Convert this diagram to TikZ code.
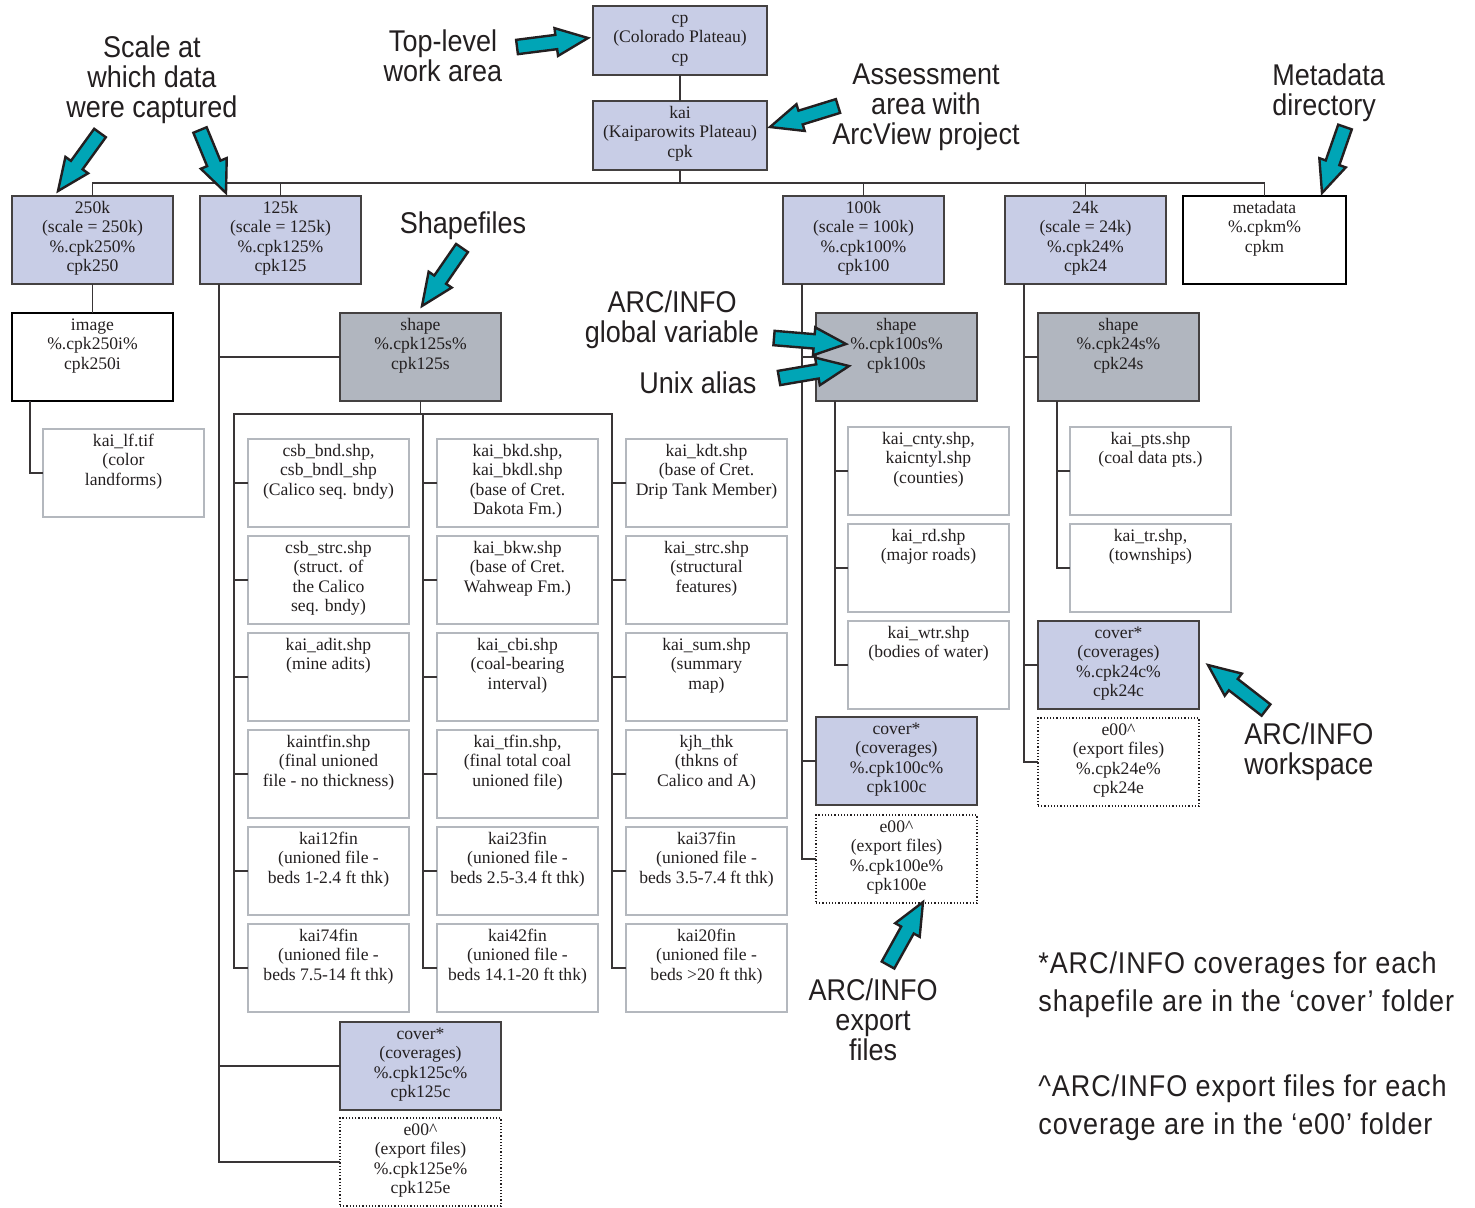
\documentclass[tikz,border=0pt]{standalone}
\usepackage{fontspec}
\setmainfont{Liberation Serif}
\newfontfamily\calloutfont[FakeStretch=0.9]{Liberation Sans}
\newfontfamily\notefont[FakeStretch=0.9,LetterSpace=3]{Liberation Sans}
\usetikzlibrary{calc}
\definecolor{lavender}{RGB}{200,205,230}
\definecolor{shapegray}{RGB}{177,182,191}
\definecolor{lightframe}{RGB}{180,184,190}
\definecolor{inkgray}{RGB}{35,31,32}
\definecolor{calloutteal}{RGB}{0,165,182}

% Ordnerkasten: Name, Stil, links, oben, Text
\newcommand{\dirbox}[5]{%
  \node[#2, anchor=north west] (#1) at (#3,#4) {};
  \node[boxtext] (#1-t) at (#1.north) {\strut #5};}
% Hinweispfeil: Ende, Spitze
\newcommand{\callarrow}[2]{%
  \draw[pointer] let \p1=(#1), \p2=(#2), \n1={atan2(\y2-\y1,\x2-\x1)}, \n2={veclen(\x2-\x1,\y2-\y1)} in
    [shift={(\p1)}, rotate=\n1] (0pt,-3.6pt) -- ({\n2*1pt-16pt},-3.6pt) -- ({\n2*1pt-16pt},-7pt)
    -- ({\n2*1pt},0pt) -- ({\n2*1pt-16pt},7pt) -- ({\n2*1pt-16pt},3.6pt) -- (0pt,3.6pt) -- cycle;}

\begin{document}
\begin{tikzpicture}[x=0.5pt, y=-0.5pt,
					folder/.style={rectangle, minimum width=80.5pt, minimum height=44pt, inner sep=0pt, outer sep=0pt},
					covbox/.style={folder, fill=lavender, draw=inkgray!85, line width=0.8pt},
					topbox/.style={covbox, minimum width=87pt, minimum height=34.5pt},
					shpbox/.style={folder, fill=shapegray, draw=inkgray!85, line width=0.8pt},
					filebox/.style={folder, draw=lightframe, line width=0.7pt},
					boldbox/.style={folder, draw=black, line width=1.3pt},
					expbox/.style={folder, draw=inkgray, densely dotted, line width=0.6pt},
					boxtext/.style={anchor=north, font=\fontsize{8.8}{9.75}\selectfont, align=center, inner sep=1.7pt, text=inkgray},
					link/.style={draw=inkgray!90, line width=0.6pt},
					callout/.style={font=\calloutfont\fontsize{15}{15}\selectfont, align=center, text=inkgray, inner sep=0pt},
					note/.style={font=\notefont\fontsize{15}{19}\selectfont, align=left, text=inkgray, inner sep=0pt, anchor=west},
					pointer/.style={draw=inkgray, fill=calloutteal, line width=1.2pt, line join=miter}]
	\useasboundingbox (0,0) rectangle (1475,1207);
	% oberste Ebenen
	\dirbox{cp}{topbox}{593}{6}{cp\\(Colorado Plateau)\\cp}
	\dirbox{kai}{topbox}{593}{101}{kai\\(Kaiparowits Plateau)\\cpk}
	% Massstaebe
	\dirbox{k250}{covbox}{12}{196}{250k\\(scale = 250k)\\\%.cpk250\%\\cpk250}
	\dirbox{k125}{covbox}{200}{196}{125k\\(scale = 125k)\\\%.cpk125\%\\cpk125}
	\dirbox{k100}{covbox}{783}{196}{100k\\(scale = 100k)\\\%.cpk100\%\\cpk100}
	\dirbox{k24}{covbox}{1005}{196}{24k\\(scale = 24k)\\\%.cpk24\%\\cpk24}
	\dirbox{meta}{boldbox, minimum width=81.5pt}{1183}{196}{metadata\\\%.cpkm\%\\cpkm}
	% 250k
	\dirbox{img}{boldbox}{12}{313}{image\\\%.cpk250i\%\\cpk250i}
	\dirbox{kailf}{filebox}{43}{429}{kai\_lf.tif\\(color\\landforms)}
	% 125k
	\dirbox{s125}{shpbox}{340}{313}{shape\\\%.cpk125s\%\\cpk125s}
	\dirbox{c125}{covbox}{340}{1022}{cover*\\(coverages)\\\%.cpk125c\%\\cpk125c}
	\dirbox{e125}{expbox}{340}{1118}{e00\textasciicircum\\(export files)\\\%.cpk125e\%\\cpk125e}
	\dirbox{g-1-1}{filebox}{248}{439}{csb\_bnd.shp,\\csb\_bndl\_shp\\(Calico seq. bndy)}
	\dirbox{g-1-2}{filebox}{248}{536}{csb\_strc.shp\\(struct. of\\the Calico\\seq. bndy)}
	\dirbox{g-1-3}{filebox}{248}{633}{kai\_adit.shp\\(mine adits)}
	\dirbox{g-1-4}{filebox}{248}{730}{kaintfin.shp\\(final unioned\\file - no thickness)}
	\dirbox{g-1-5}{filebox}{248}{827}{kai12fin\\(unioned file -\\beds 1-2.4 ft thk)}
	\dirbox{g-1-6}{filebox}{248}{924}{kai74fin\\(unioned file -\\beds 7.5-14 ft thk)}
	\dirbox{g-2-1}{filebox}{437}{439}{kai\_bkd.shp,\\kai\_bkdl.shp\\(base of Cret.\\Dakota Fm.)}
	\dirbox{g-2-2}{filebox}{437}{536}{kai\_bkw.shp\\(base of Cret.\\Wahweap Fm.)}
	\dirbox{g-2-3}{filebox}{437}{633}{kai\_cbi.shp\\(coal-bearing\\interval)}
	\dirbox{g-2-4}{filebox}{437}{730}{kai\_tfin.shp,\\(final total coal\\unioned file)}
	\dirbox{g-2-5}{filebox}{437}{827}{kai23fin\\(unioned file -\\beds 2.5-3.4 ft thk)}
	\dirbox{g-2-6}{filebox}{437}{924}{kai42fin\\(unioned file -\\beds 14.1-20 ft thk)}
	\dirbox{g-3-1}{filebox}{626}{439}{kai\_kdt.shp\\(base of Cret.\\Drip Tank Member)}
	\dirbox{g-3-2}{filebox}{626}{536}{kai\_strc.shp\\(structural\\features)}
	\dirbox{g-3-3}{filebox}{626}{633}{kai\_sum.shp\\(summary\\map)}
	\dirbox{g-3-4}{filebox}{626}{730}{kjh\_thk\\(thkns of\\Calico and A)}
	\dirbox{g-3-5}{filebox}{626}{827}{kai37fin\\(unioned file -\\beds 3.5-7.4 ft thk)}
	\dirbox{g-3-6}{filebox}{626}{924}{kai20fin\\(unioned file -\\beds >20 ft thk)}
	% 100k
	\dirbox{s100}{shpbox}{816}{313}{shape\\\%.cpk100s\%\\cpk100s}
	\dirbox{cnty}{filebox}{848}{427}{kai\_cnty.shp,\\kaicntyl.shp\\(counties)}
	\dirbox{rd}{filebox}{848}{524}{kai\_rd.shp\\(major roads)}
	\dirbox{wtr}{filebox}{848}{621}{kai\_wtr.shp\\(bodies of water)}
	\dirbox{c100}{covbox}{816}{717}{cover*\\(coverages)\\\%.cpk100c\%\\cpk100c}
	\dirbox{e100}{expbox}{816}{815}{e00\textasciicircum\\(export files)\\\%.cpk100e\%\\cpk100e}
	% 24k
	\dirbox{s24}{shpbox}{1038}{313}{shape\\\%.cpk24s\%\\cpk24s}
	\dirbox{pts}{filebox}{1070}{427}{kai\_pts.shp\\(coal data pts.)}
	\dirbox{tr}{filebox}{1070}{524}{kai\_tr.shp,\\(townships)}
	\dirbox{c24}{covbox}{1038}{621}{cover*\\(coverages)\\\%.cpk24c\%\\cpk24c}
	\dirbox{e24}{expbox}{1038}{718}{e00\textasciicircum\\(export files)\\\%.cpk24e\%\\cpk24e}
	% Verbindungen
	\draw[link] (cp) -- (kai);
	\coordinate (bus) at (680,183);
	\draw[link] (kai) -- (bus);
	\foreach \n in {k250,k125,k100,k24,meta} \draw[link] (bus) -| (\n);
	\draw[link] (k250) -- (img);
	\draw[link] ($(img.south west)+(18,0)$) |- (kailf);
	\foreach \n in {s125,c125,e125} \draw[link] ($(k125.south west)+(19,0)$) |- (\n);
	\foreach \n in {s100,c100,e100} \draw[link] ($(k100.south west)+(19,0)$) |- (\n);
	\foreach \n in {s24,c24,e24} \draw[link] ($(k24.south west)+(19,0)$) |- (\n);
	\foreach \n in {cnty,rd,wtr} \draw[link] ($(s100.south west)+(19,0)$) |- (\n);
	\foreach \n in {pts,tr} \draw[link] ($(s24.south west)+(19,0)$) |- (\n);
	\coordinate (g125) at ($(s125.south)+(0,13)$);
	\draw[link] (s125) -- (g125);
	\foreach \c in {1,2,3} \foreach \r in {1,...,6}
		\draw[link] (g125) -| ($(g-\c-\r.west)+(-14,0)$) -- (g-\c-\r);
	% Beschriftungen
	\node[callout] (scaleNote) at (152,80) {Scale at\\which data\\were captured};
	\node[callout] (topNote) at (443,56) {Top-level\\work area};
	\node[callout] (areaNote) at (926,107) {Assessment\\area with\\ArcView project};
	\node[callout, align=left, anchor=west] (metaNote) at (1272,93) {Metadata\\directory};
	\node[callout] (shapeNote) at (463,226) {Shapefiles};
	\node[callout] (globalNote) at (672,320) {ARC/INFO\\global variable};
	\node[callout] (aliasNote) at (698,383) {Unix alias};
	\node[callout, align=left, anchor=west] (workNote) at (1244,752) {ARC/INFO\\workspace};
	\node[callout] (exportNote) at (873,1020) {ARC/INFO\\export\\files};
	\node[note] (coverNote) at (1038,985) {*ARC/INFO coverages for each\\shapefile are in the ‘cover’ folder};
	\node[note] (e00Note) at (1038,1108) {\textasciicircum ARC/INFO export files for each\\coverage are in the ‘e00’ folder};
	% Pfeile
	\callarrow{100,133}{58,191}
	\callarrow{200,130}{226,193}
	\callarrow{517,47}{588,38}
	\callarrow{838,106}{770,127}
	\callarrow{1345,127}{1322,193}
	\callarrow{462,248}{422,306}
	\callarrow{774,338}{846,344}
	\callarrow{779,378}{849,366}
	\callarrow{1266,710}{1208,665}
	\callarrow{888,965}{923,902}
\end{tikzpicture}
\end{document}
